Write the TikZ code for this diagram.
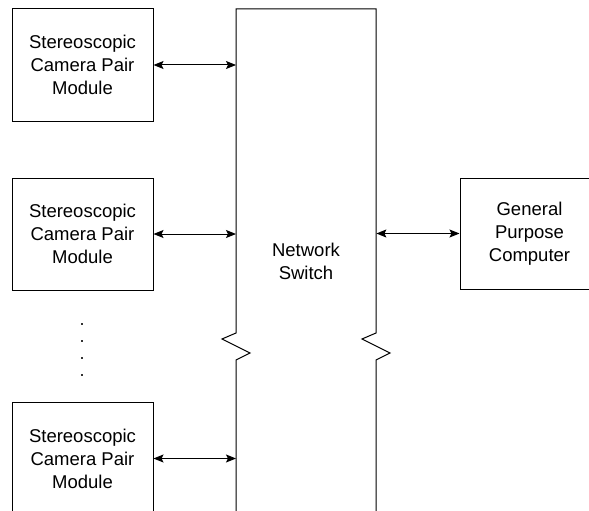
\documentclass[tikz,border=0pt]{standalone}
\usepackage{fontspec}
\setmainfont{Liberation Sans}
\usetikzlibrary{arrows.meta}
\begin{document}
\begin{tikzpicture}[x=1pt,y=-1pt,
  blk/.style={draw=black, line width=1pt, minimum width=141pt, minimum height=112pt, align=center, inner sep=0pt,
    font=\fontsize{18.5}{23}\selectfont},
  lbl/.style={align=center, font=\fontsize{18.5}{23}\selectfont},
  link/.style={line width=1pt, {Stealth[length=10pt,width=8pt,inset=2pt]}-{Stealth[length=10pt,width=8pt,inset=2pt]}},
  dotm/.style={fill=black!80, inner sep=0pt, minimum size=2pt, rectangle}]
\clip (0,0) rectangle (589,511);
\fill[white] (0,0) rectangle (589,511);
% switch outline
\node[anchor=north west, minimum width=140pt, minimum height=506pt, inner sep=0pt] (sw) at (236,9) {};
\draw[line width=1pt, line join=miter] (236,530) -- (236,360) -- (250,353) -- (222,339) -- (236,333) -- (236,9) -- (376,9)
  -- (376,333) -- (362,339) -- (390,353) -- (376,360) -- (376,530);
\node[lbl] (swl) at (306,261) {Network\\Switch};
% camera modules
\node[blk] (c1) at (82.5,65) {Stereoscopic\\Camera Pair\\Module};
\node[blk] (c2) at (82.5,234) {Stereoscopic\\Camera Pair\\Module};
\node[blk] (c3) at (82.5,458.5) {Stereoscopic\\Camera Pair\\Module};
% computer
\node[blk, minimum width=139pt, minimum height=111pt] (pc) at (529.5,233.5) {General\\Purpose\\Computer};
% connectors
\draw[link] (c1.east) -- (c1.east -| sw.west);
\draw[link] (c2.east) -- (c2.east -| sw.west);
\draw[link] (c3.east) -- (c3.east -| sw.west);
\draw[link] (pc.west -| sw.east) -- (pc.west);
% dots
\node[dotm] (d1) at (82,324) {};
\node[dotm] (d2) at (82,341) {};
\node[dotm] (d3) at (82,358) {};
\node[dotm] (d4) at (82,375) {};
\end{tikzpicture}
\end{document}
